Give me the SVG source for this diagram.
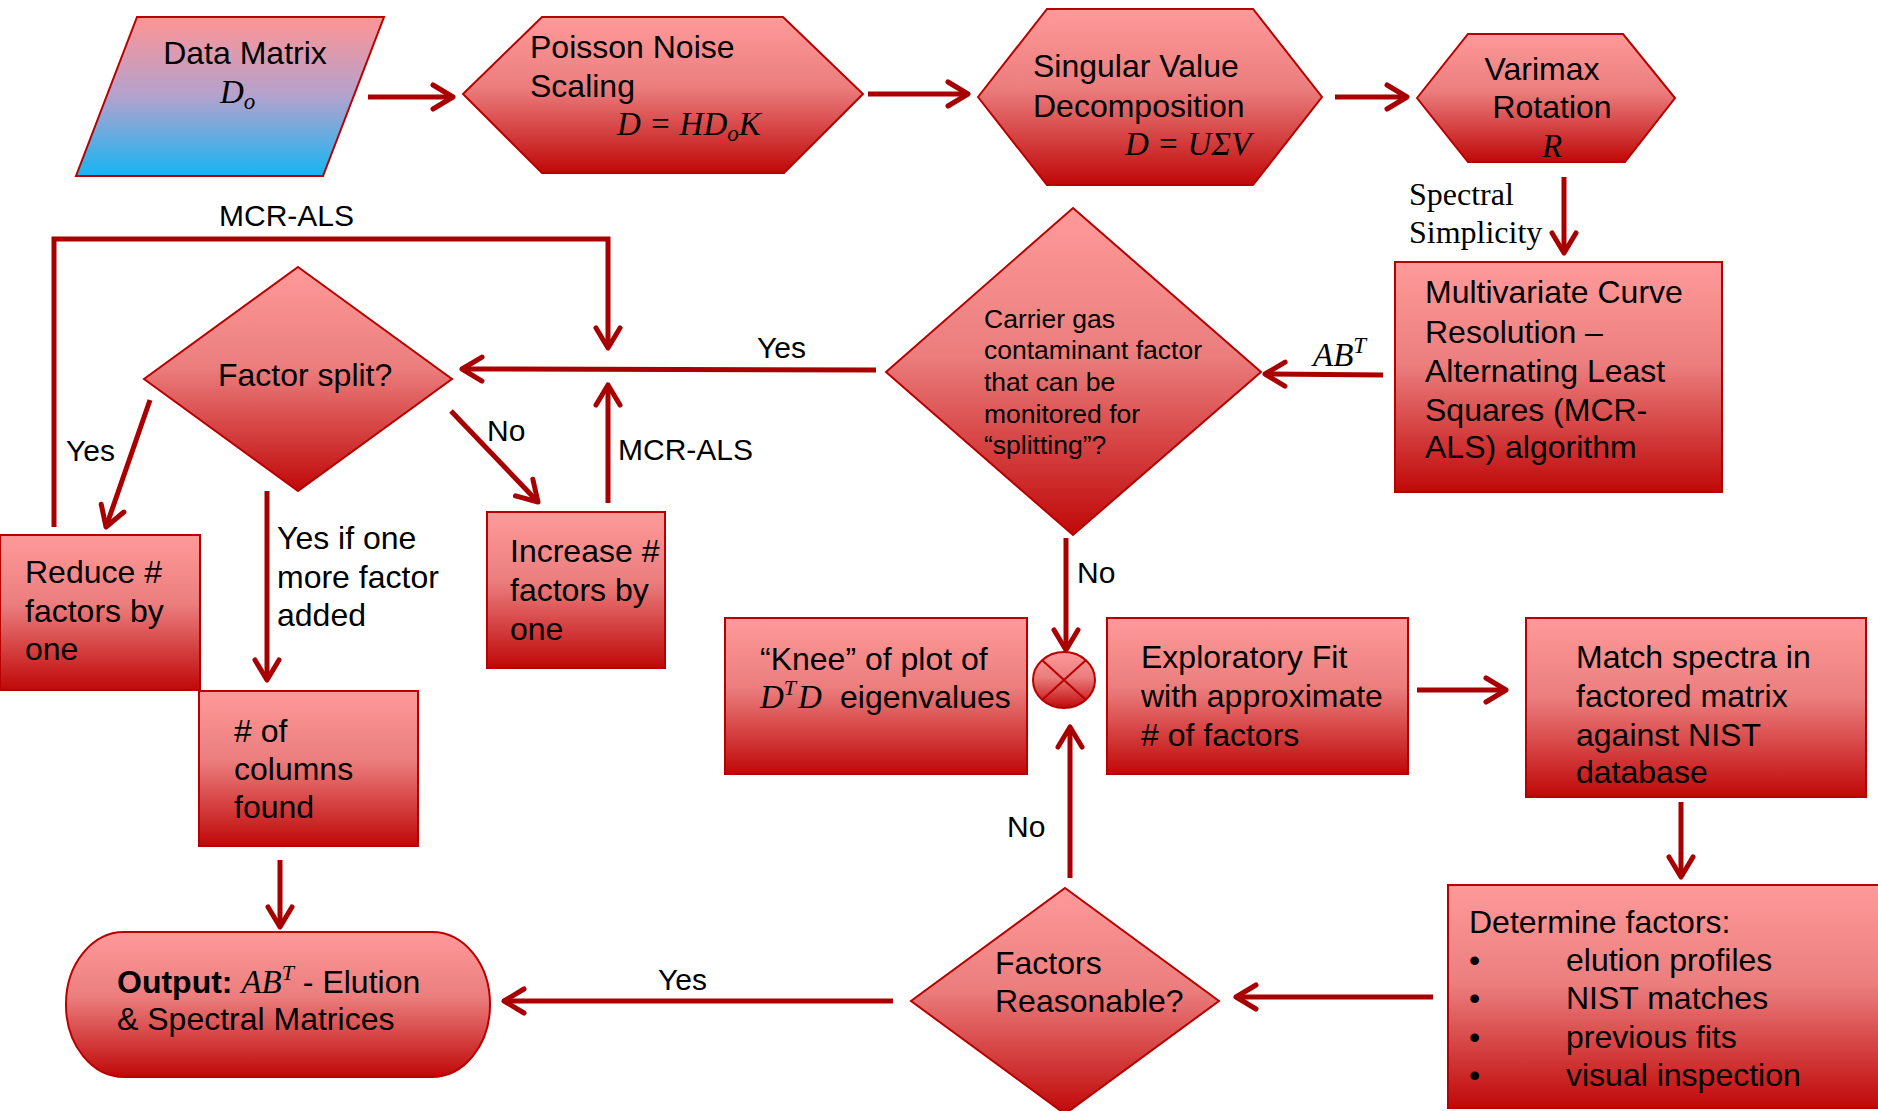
<svg xmlns="http://www.w3.org/2000/svg" width="1878" height="1111" viewBox="0 0 1878 1111">
<defs>
<linearGradient id="red" x1="0" y1="0" x2="0" y2="1">
<stop offset="0" stop-color="#FF9A9A"/>
<stop offset="0.45" stop-color="#EB7D7D"/>
<stop offset="1" stop-color="#C00808"/>
</linearGradient>
<linearGradient id="blue" x1="0" y1="0" x2="0" y2="1">
<stop offset="0" stop-color="#FF9494"/>
<stop offset="0.5" stop-color="#B2A2CE"/>
<stop offset="1" stop-color="#16B5F2"/>
</linearGradient>
<marker id="ah" markerUnits="userSpaceOnUse" markerWidth="30" markerHeight="34" viewBox="0 0 30 34" refX="26" refY="17" orient="auto">
<path d="M6,5 L26,17 L6,29" fill="none" stroke="#A80000" stroke-width="5" stroke-linecap="round" stroke-linejoin="round"/>
</marker>
<style>
.shape{fill:url(#red);stroke:#B80000;stroke-width:2}
.c{fill:none;stroke:#A80000;stroke-width:5}
.a{marker-end:url(#ah)}
text{font-family:"Liberation Sans",Arial,sans-serif;fill:#000}
.t{font-size:32px}
.l{font-size:30px}
.s{font-size:26.5px}
.m{font-family:"Liberation Serif","Times New Roman",serif;font-style:italic;font-size:33px}
.sr{font-family:"Liberation Serif","Times New Roman",serif;font-size:32px}
</style>
</defs>

<g id="connectors">
<line class="c a" x1="368" y1="97" x2="453" y2="97"/>
<line class="c a" x1="868" y1="94" x2="968" y2="94"/>
<line class="c a" x1="1335" y1="97" x2="1407" y2="97"/>
<line class="c a" x1="1564" y1="177" x2="1564" y2="253"/>
<line class="c a" x1="1383" y1="375" x2="1265" y2="374"/>
<line class="c a" x1="876" y1="370" x2="462" y2="369"/>
<line class="c a" x1="150" y1="400" x2="106" y2="527"/>
<line class="c a" x1="451" y1="411" x2="538" y2="502"/>
<line class="c a" x1="608" y1="503" x2="608" y2="385"/>
<polyline class="c a" points="54,527 54,239 608,239 608,348"/>
<line class="c a" x1="267" y1="491" x2="267" y2="680"/>
<line class="c a" x1="280" y1="860" x2="280" y2="927"/>
<line class="c a" x1="1066" y1="538" x2="1066" y2="650"/>
<line class="c a" x1="1070" y1="878" x2="1070" y2="727"/>
<line class="c a" x1="1417" y1="690" x2="1506" y2="690"/>
<line class="c a" x1="1681" y1="802" x2="1681" y2="877"/>
<line class="c a" x1="1433" y1="997" x2="1236" y2="997"/>
<line class="c a" x1="893" y1="1001" x2="504" y2="1001"/>
<text class="m" x="1313" y="366">AB<tspan font-size="23" dy="-13">T</tspan></text>
<text class="l" x="757" y="358">Yes</text>
<text class="l" x="66" y="461">Yes</text>
<text class="l" x="487" y="441">No</text>
<text class="l" x="618" y="460">MCR-ALS</text>
<text class="l" x="219" y="226">MCR-ALS</text>
<text class="t" x="277" y="549">Yes if one<tspan x="277" y="588">more factor</tspan><tspan x="277" y="626">added</tspan></text>
<text class="l" x="1077" y="583">No</text>
<text class="l" x="1007" y="837">No</text>
<text class="l" x="658" y="990">Yes</text>
<text class="sr" x="1409" y="205">Spectral<tspan x="1409" y="243">Simplicity</tspan></text>
</g>

<g id="data-matrix">
<polygon points="137,17 384,17 323,176 76,176" fill="url(#blue)" stroke="#B80000" stroke-width="2"/>
<text class="t" x="245" y="64" text-anchor="middle">Data Matrix</text>
<text class="m" x="220" y="103">D<tspan font-size="23" dy="6">o</tspan></text>
</g>

<g id="poisson">
<polygon class="shape" points="463,94 542,17 783,17 863,94 784,173 542,173"/>
<text class="t" x="530" y="58">Poisson Noise<tspan x="530" y="97">Scaling</tspan></text>
<text class="m" x="617" y="135">D = HD<tspan font-size="23" dy="6">o</tspan><tspan dy="-6">K</tspan></text>
</g>

<g id="svd">
<polygon class="shape" points="978,97 1047,9 1253,9 1322,97 1253,185 1047,185"/>
<text class="t" x="1033" y="77">Singular Value<tspan x="1033" y="117">Decomposition</tspan></text>
<text class="m" x="1125" y="155">D = UΣV</text>
</g>

<g id="varimax">
<polygon class="shape" points="1417,98 1468,34 1623,34 1675,98 1625,162 1468,162"/>
<text class="t" x="1542" y="80" text-anchor="middle">Varimax</text>
<text class="t" x="1552" y="118" text-anchor="middle">Rotation</text>
<text class="m" x="1542" y="157">R</text>
</g>

<g id="mcr-als">
<rect class="shape" x="1395" y="262" width="327" height="230"/>
<text class="t" x="1425" y="303">Multivariate Curve<tspan x="1425" y="343">Resolution –</tspan><tspan x="1425" y="382">Alternating Least</tspan><tspan x="1425" y="421">Squares (MCR-</tspan><tspan x="1425" y="458">ALS) algorithm</tspan></text>
</g>

<g id="carrier-gas">
<polygon class="shape" points="1073,208 1261,372 1073,535 886,372"/>
<text class="s" x="984" y="328">Carrier gas<tspan x="984" y="359">contaminant factor</tspan><tspan x="984" y="391">that can be</tspan><tspan x="984" y="423">monitored for</tspan><tspan x="984" y="454">“splitting”?</tspan></text>
</g>

<g id="factor-split">
<polygon class="shape" points="298,267 452,379 298,491 144,379"/>
<text class="t" x="218" y="386">Factor split?</text>
</g>

<g id="reduce">
<rect class="shape" x="0" y="535" width="200" height="155"/>
<text class="t" x="25" y="583">Reduce #<tspan x="25" y="622">factors by</tspan><tspan x="25" y="660">one</tspan></text>
</g>

<g id="increase">
<rect class="shape" x="487" y="512" width="178" height="156"/>
<text class="t" x="510" y="562">Increase #<tspan x="510" y="601">factors by</tspan><tspan x="510" y="640">one</tspan></text>
</g>

<g id="columns">
<rect class="shape" x="199" y="691" width="219" height="155"/>
<text class="t" x="234" y="742"># of<tspan x="234" y="780">columns</tspan><tspan x="234" y="818">found</tspan></text>
</g>

<g id="output">
<rect class="shape" x="66" y="932" width="424" height="145" rx="58" ry="72"/>
<text class="t" x="117" y="993"><tspan font-weight="bold">Output:</tspan> <tspan class="m">AB<tspan font-size="22" dy="-13">T</tspan></tspan><tspan dy="13"> - Elution</tspan></text>
<text class="t" x="117" y="1030">&amp; Spectral Matrices</text>
</g>

<g id="knee">
<rect class="shape" x="725" y="618" width="302" height="156"/>
<text class="t" x="760" y="670">“Knee” of plot of</text>
<text class="m" x="760" y="708">D<tspan font-size="22" dy="-13">T</tspan><tspan dy="13" dx="2">D</tspan></text>
<text class="t" x="840" y="708">eigenvalues</text>
</g>

<g id="junction">
<ellipse class="shape" cx="1064" cy="680" rx="31" ry="28"/>
<path d="M1042,660 L1086,700 M1086,660 L1042,700" stroke="#B80000" stroke-width="2" fill="none"/>
</g>

<g id="exploratory">
<rect class="shape" x="1107" y="618" width="301" height="156"/>
<text class="t" x="1141" y="668">Exploratory Fit<tspan x="1141" y="707">with approximate</tspan><tspan x="1141" y="746"># of factors</tspan></text>
</g>

<g id="match">
<rect class="shape" x="1526" y="618" width="340" height="179"/>
<text class="t" x="1576" y="668">Match spectra in<tspan x="1576" y="707">factored matrix</tspan><tspan x="1576" y="746">against NIST</tspan><tspan x="1576" y="783">database</tspan></text>
</g>

<g id="determine">
<rect class="shape" x="1448" y="885" width="450" height="223"/>
<text class="t" x="1469" y="933">Determine factors:</text>
<text class="t" x="1469" y="971">•<tspan x="1566">elution profiles</tspan></text>
<text class="t" x="1469" y="1009">•<tspan x="1566">NIST matches</tspan></text>
<text class="t" x="1469" y="1048">•<tspan x="1566">previous fits</tspan></text>
<text class="t" x="1469" y="1086">•<tspan x="1566">visual inspection</tspan></text>
</g>

<g id="factors-reasonable">
<polygon class="shape" points="1065,888 1219,1001 1065,1114 911,1001"/>
<text class="t" x="995" y="974">Factors<tspan x="995" y="1012">Reasonable?</tspan></text>
</g>
</svg>
